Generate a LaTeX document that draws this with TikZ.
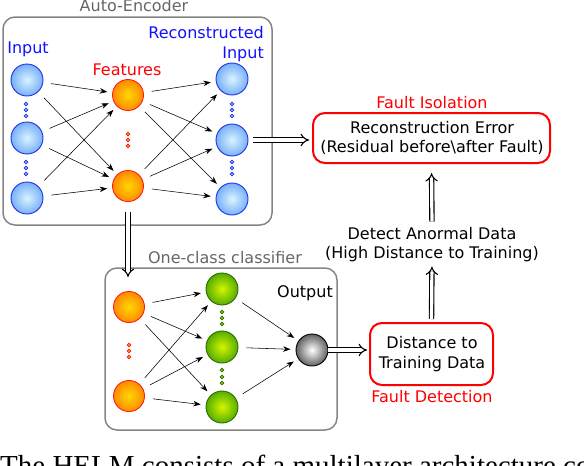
\documentclass[tikz,border=0pt]{standalone}
\usepackage{fontspec}
\setmainfont{DejaVu Sans}
\newfontfamily\capfont{Liberation Serif}
\usetikzlibrary{arrows.meta}
\definecolor{nblue}{HTML}{1E32E6}
\definecolor{bluein}{HTML}{D8F4FF}
\definecolor{blueout}{HTML}{78B0F8}
\definecolor{nred}{HTML}{FF1A1A}
\definecolor{orin}{HTML}{FFD800}
\definecolor{orout}{HTML}{FF8A00}
\definecolor{ngreen}{HTML}{2A6A00}
\definecolor{grin}{HTML}{D4F500}
\definecolor{grout}{HTML}{56AE00}
\definecolor{boxgray}{HTML}{858585}
\definecolor{lblgray}{HTML}{666666}
\definecolor{txtblue}{HTML}{1010FF}
\begin{document}
\begin{tikzpicture}[x=1pt,y=-1pt,
  neuron/.style={circle,minimum size=32pt,inner sep=0pt,line width=0.9pt},
  bluen/.style={neuron,draw=nblue,inner color=bluein,outer color=blueout},
  orangen/.style={neuron,minimum size=31pt,draw=nred,inner color=orin,outer color=orout},
  greenn/.style={neuron,draw=ngreen,inner color=grin,outer color=grout},
  grayn/.style={neuron,draw=black,inner color=white,outer color=black!62},
  conn/.style={-{Stealth[length=7.5pt,width=5.5pt]},line width=0.55pt,shorten <=8pt,shorten >=5pt},
  dbl/.style={double,double distance=3.2pt,line width=1.1pt,-{Implies}},
  graybox/.style={draw=boxgray,line width=1.5pt,rounded corners=12pt},
  redbox/.style={draw=red,line width=2pt,rounded corners=12pt,inner sep=0pt},
  lbl/.style={font=\fontsize{16}{19}\selectfont,anchor=base,inner sep=0pt},
  bdot/.style={draw=nblue,fill=bluein,line width=0.8pt},
  rdot/.style={draw=nred,fill=orin,line width=0.8pt},
  gdot/.style={draw=ngreen,fill=grin,line width=0.8pt}]
\useasboundingbox (0,0) rectangle (584,466);

% Auto-encoder box
\draw[graybox] (3,17) rectangle (272,225);
\node[lbl,text=lblgray] (aelbl) at (134,11) {Auto-Encoder};
\node[lbl,text=txtblue] (inlbl) at (28,53) {Input};
\node[lbl,text=txtblue,anchor=base east] (reclbl1) at (264,38) {Reconstructed};
\node[lbl,text=txtblue,anchor=base east] (reclbl2) at (264,58) {Input};
\node[lbl,text=red] (featlbl) at (127,75) {Features};

\node[bluen] (i1) at (27,80) {};
\node[bluen] (i2) at (27,138) {};
\node[bluen] (i3) at (27,198) {};
\node[orangen] (f1) at (128,95) {};
\node[orangen] (f2) at (128,186) {};
\node[bluen] (r1) at (232,79) {};
\node[bluen] (r2) at (232,140) {};
\node[bluen] (r3) at (232,199) {};

\foreach \y in {104,110,116,162,168,174}{
  \draw[bdot] (26,\y) circle (1.7pt);
  \draw[bdot] (232,\y) circle (1.7pt);
}
\foreach \y in {134,140,146} \draw[rdot] (128,\y) circle (1.7pt);

\foreach \a in {i1,i2,i3}{\foreach \b in {f1,f2}{\draw[conn] (\a) -- (\b);}}
\foreach \a in {f1,f2}{\foreach \b in {r1,r2,r3}{\draw[conn] (\a) -- (\b);}}

% One-class classifier box
\draw[graybox] (105,268) rectangle (337,430);
\node[lbl,text=lblgray] (occlbl) at (225,263) {One-class classifier};
\node[lbl] (outlbl) at (305,297) {Output};

\node[orangen] (o1) at (129,307) {};
\node[orangen] (o2) at (129,396) {};
\node[greenn] (g1) at (222,289) {};
\node[greenn] (g2) at (222,347) {};
\node[greenn] (g3) at (222,407) {};
\node[grayn] (out) at (312,350) {};

\foreach \y in {345,351,357} \draw[rdot] (129,\y) circle (1.7pt);
\foreach \y in {312,318,324,370,377,383} \draw[gdot] (222,\y) circle (1.7pt);

\foreach \a in {o1,o2}{\foreach \b in {g1,g2,g3}{\draw[conn] (\a) -- (\b);}}
\foreach \a in {g1,g2,g3}{\draw[conn] (\a) -- (out);}

% right side
\node[redbox,minimum width=237pt,minimum height=50pt] (recbox) at (431.5,138) {};
\node[lbl,text=red] (fiso) at (432,108) {Fault Isolation};
\node[lbl] (rec1) at (432,133) {Reconstruction Error};
\node[lbl] (rec2) at (432,152) {(Residual before\textbackslash after Fault)};

\node[lbl] (det1) at (432,239) {Detect Anormal Data};
\node[lbl] (det2) at (432,258) {(High Distance to Training)};

\node[redbox,minimum width=123pt,minimum height=62pt] (dist) at (431.5,354) {};
\node[lbl] (dist1) at (432,348) {Distance to};
\node[lbl] (dist2) at (432,368) {Training Data};
\node[lbl,text=red] (fdet) at (432,402) {Fault Detection};

% double arrows
\draw[dbl,shorten <=5pt,shorten >=3pt] (r2.east) -- (recbox.west |- r2.east);
\draw[dbl,shorten <=10pt,shorten >=14pt] (f2.south) -- (f2.south |- o1.north);
\draw[dbl,shorten >=2pt] (out.east) -- (dist.west |- out.east);
\draw[dbl,shorten <=3pt,shorten >=5pt] (dist.north) -- (det2.south);
\draw[dbl,shorten <=5pt,shorten >=9pt] (det1.north) -- (recbox.south);

% caption fragment
\node[anchor=base west,inner sep=0pt,font=\capfont\fontsize{29}{30}\selectfont] (cap) at (0,475) {The HELM consists of a multilayer architecture composed of two};
\end{tikzpicture}
\end{document}
